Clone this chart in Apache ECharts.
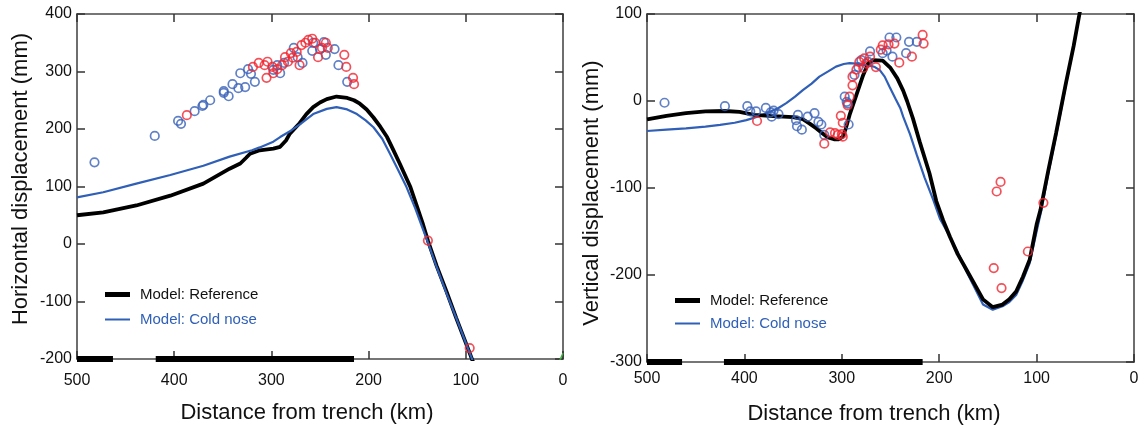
<!DOCTYPE html>
<html><head><meta charset="utf-8">
<script src="https://cdn.jsdelivr.net/npm/echarts@6/dist/echarts.min.js"></script>
<style>html,body{margin:0;padding:0;background:#fff}#c{width:1145px;height:429px}</style>
</head><body><div id="c"></div>
<script>
// ---------- DATA ----------
// Horizontal displacement panel (x: distance from trench km, y: mm)
const horizBlueObs = [[482,142],[420,188],[396,214],[393,209],[379,231],[371,240],[370,242],[363,250],[349,266],[349,263],[344,257],[340,278],[334,271],[332,297],[327,273],[324,304],[321,296],[317,282],[298,303],[294,311],[291,297],[287,315],[277,341],[273,325],[268,315],[258,336],[257,350],[250,339],[246,351],[244,329],[235,339],[231,311],[222,282]];
const horizRedObs = [[387,224],[319,308],[313,315],[307,311],[304,317],[305,289],[299,308],[298,297],[294,304],[289,311],[286,325],[283,317],[280,332],[278,324],[274,334],[271,311],[269,346],[265,350],[262,355],[258,357],[255,350],[252,325],[248,341],[244,350],[242,341],[225,329],[223,308],[216,289],[215,278],[139,6],[96,-181]];
const horizRefModel = [[500,50],[473,55],[439,67],[404,84],[370,105],[343,131],[332,140],[326,150],[322,157],[312,163],[298,166],[291,169],[285,180],[281,192],[271,210],[264,226],[257,238],[250,246],[243,252],[233,256.5],[222,254],[215,250],[209,244],[202,234],[195,220],[188,204],[181,186],[175,165],[168,140],[157,99],[150,64],[144,34],[139,6],[130,-38],[120,-82],[110,-128],[100,-172],[91,-212]];
const horizColdModel = [[500,81],[473,90],[439,105],[404,120],[370,136],[343,152],[320,163],[312,168],[298,178],[291,186],[280,197],[270,209],[257,226],[243,235],[233,238],[222,234],[212,226],[203,215],[195,203],[186,183],[178,157],[170,130],[161,99],[152,62],[145,30],[139,3],[130,-40],[120,-85],[110,-128],[100,-172],[89,-220]];
const horizGreen = [[4,-205],[0,-190]];
const horizBars = [[500,463],[419,215]];

// Vertical displacement panel
const vertBlueObs = [[482,-2],[420,-6],[397,-6],[394,-12],[388,-12],[378,-8],[373,-13],[372,-18],[370,-11],[365,-15],[345,-16],[347,-22],[346,-29],[341,-33],[335,-18],[328,-14],[324,-24],[321,-27],[318,-39],[293,-27],[297,5],[295,-1],[294,-3],[287,30],[283,39],[280,47],[273,45],[271,57],[258,55],[254,58],[251,73],[244,73],[248,51],[234,55],[231,68],[223,68]];
const vertRedObs = [[387,-23],[318,-49],[312,-36],[307,-37],[304,-39],[300,-38],[299,-41],[301,-17],[299,-25],[292,5],[294,-5],[289,18],[289,28],[285,36],[282,45],[278,38],[277,49],[275,43],[271,51],[265,39],[260,59],[258,64],[252,65],[246,66],[241,44],[228,51],[217,76],[216,66],[141,-104],[137,-93],[144,-192],[136,-215],[109,-173],[93,-117]];
const vertRefModel = [[500,-21],[480,-17],[460,-14],[440,-12],[420,-11.5],[405,-12.5],[390,-16],[370,-17.5],[350,-18.5],[340,-21],[333,-26],[326,-31.5],[320,-37],[315,-41.5],[308,-44],[303,-44],[299,-41],[296,-32],[292,-16],[285,7],[278,30],[273,43],[268,47],[258,46.5],[250,38],[243,26],[237,12],[233,0],[227,-20],[220,-47],[210,-83],[203,-115],[196,-137],[189,-156],[181,-176],[172,-194],[163,-212],[155,-228],[145,-237],[135,-234],[128,-228],[121,-219],[114,-202],[107,-182],[100,-142],[96,-125],[88,-80],[80,-37],[70,20],[62,63],[56,100],[50,135]];
const vertColdModel = [[500,-34.5],[480,-33],[460,-31.5],[440,-29.5],[425,-27.5],[410,-25],[398,-22],[385,-17.5],[374,-12.5],[365,-8],[357,-2.5],[348,5],[340,12.5],[331,20],[323,28],[314,34],[306,39.5],[298,42.5],[292,43.5],[285,43],[280,41.5],[272,41],[266,39],[261,35.5],[256,28],[251,16.5],[245,3],[240,-8],[237,-18],[230,-38],[223,-62],[215,-88],[206,-114],[199,-136],[189,-156],[180,-176],[172,-196],[163,-216],[155,-234],[145,-240],[135,-236],[128,-231],[121,-223],[114,-206],[107,-186],[100,-150],[95,-125],[88,-83],[80,-40],[70,18],[62,62],[56,100],[50,135]];
const vertBars = [[500,464],[421,217]];

const xRange = [0, 500, 100];
const horizYRange = [-200, 400, 100];
const vertYRange = [-300, 100, 100];

const legendNames = ['Model: Reference', 'Model: Cold nose'];
const xTitle = 'Distance from trench (km)';
const yTitles = ['Horizontal displacement (mm)', 'Vertical displacement (mm)'];

// ---------- STYLE ----------
const FONT = '"Liberation Sans", Arial, Helvetica, sans-serif';
const AXIS_COLOR = '#4a4a4a';
const BLUE_LINE = '#2f5fb6';
const BLUE_MK = '#3a62b8';
const RED_MK = '#f0262f';
const TEXT = '#111';

function xAxes(gi, labelMargin) {
  const base = {
    gridIndex: gi, type: 'value', min: xRange[0], max: xRange[1], interval: xRange[2], inverse: true,
    axisLine: { show: true, onZero: false, lineStyle: { color: AXIS_COLOR, width: 1.6 } },
    axisTick: { show: true, inside: true, length: 8, lineStyle: { color: '#333', width: 1.5 } },
    splitLine: { show: false }
  };
  return [
    Object.assign({}, base, { position: 'bottom', axisLabel: { color: TEXT, fontSize: 16, fontFamily: FONT, margin: labelMargin } }),
    Object.assign({}, base, { position: 'top', axisLabel: { show: false } })
  ];
}
function yAxes(gi, r) {
  const base = {
    gridIndex: gi, type: 'value', min: r[0], max: r[1], interval: r[2],
    axisLine: { show: true, onZero: false, lineStyle: { color: AXIS_COLOR, width: 1.6 } },
    axisTick: { show: true, inside: true, length: 8, lineStyle: { color: '#333', width: 1.5 } },
    splitLine: { show: false }
  };
  return [
    Object.assign({}, base, { position: 'left', axisLabel: { color: TEXT, fontSize: 16, fontFamily: FONT, margin: 5 } }),
    Object.assign({}, base, { position: 'right', axisLabel: { show: false } })
  ];
}

function lineS(name, data, xi, yi, color, width, z) {
  return { name: name, type: 'line', xAxisIndex: xi, yAxisIndex: yi, data: data, symbol: 'none', smooth: false,
    lineStyle: { color: color, width: width }, itemStyle: { color: color }, z: z, animation: false };
}
function scatS(name, data, xi, yi, color) {
  return { name: name, type: 'scatter', xAxisIndex: xi, yAxisIndex: yi, data: data, symbol: 'circle', symbolSize: 8.5,
    itemStyle: { color: 'rgba(255,255,255,0)', borderColor: color, borderWidth: 1.7 }, z: 5, animation: false };
}
function barS(range, xi, yi, y, width) {
  return { type: 'line', xAxisIndex: xi, yAxisIndex: yi, data: [[range[0], y], [range[1], y]], symbol: 'none', clip: false,
    lineStyle: { color: '#000', width: width, cap: 'butt' }, z: 6, animation: false, silent: true };
}

const series = [
  lineS(legendNames[1], horizColdModel, 0, 0, BLUE_LINE, 2.2, 3),
  lineS(legendNames[0], horizRefModel, 0, 0, '#000', 3.8, 2),
  lineS('green', horizGreen, 0, 0, '#3bb33b', 1.5, 2),
  scatS('blueObsH', horizBlueObs, 0, 0, BLUE_MK),
  scatS('redObsH', horizRedObs, 0, 0, RED_MK),
  lineS(legendNames[1], vertColdModel, 2, 2, BLUE_LINE, 2.2, 2),
  lineS(legendNames[0], vertRefModel, 2, 2, '#000', 3.8, 3),
  scatS('blueObsV', vertBlueObs, 2, 2, BLUE_MK),
  scatS('redObsV', vertRedObs, 2, 2, RED_MK)
];
horizBars.forEach(b => series.push(barS(b, 0, 0, horizYRange[0], 6)));
vertBars.forEach(b => series.push(barS(b, 2, 2, vertYRange[0], 6)));

function legend(left, top, gap) {
  return {
    left: left, top: top, orient: 'vertical', itemWidth: 25, itemHeight: 14, itemGap: gap,
    selectedMode: false,
    data: [
      { name: legendNames[0], icon: 'path://M0,0 L25,0 L25,5 L0,5 Z', itemStyle: { color: '#000' }, textStyle: { color: TEXT } },
      { name: legendNames[1], icon: 'path://M0,0 L25,0 L25,2 L0,2 Z', itemStyle: { color: BLUE_LINE }, textStyle: { color: BLUE_LINE } }
    ],
    textStyle: { fontSize: 15, fontFamily: FONT, padding: [0, 0, 0, 5] }
  };
}

function txt(x, y, s, rot) {
  return { type: 'text', x: x, y: y, rotation: rot || 0, silent: true,
    style: { text: s, font: '22px ' + FONT, fill: TEXT, align: 'center', verticalAlign: 'middle', textAlign: 'center', textVerticalAlign: 'middle' } };
}

const option = {
  backgroundColor: '#fff',
  animation: false,
  grid: [
    { left: 77, top: 14, width: 486, height: 345 },
    { left: 647, top: 14, width: 487, height: 348 }
  ],
  xAxis: xAxes(0, 14).concat(xAxes(1, 9)),
  yAxis: yAxes(0, horizYRange).concat(yAxes(1, vertYRange)),
  legend: [legend(100, 282, 10), legend(670, 288, 8)],
  series: series,
  graphic: [
    txt(21, 179, yTitles[0], Math.PI / 2),
    txt(592, 193, yTitles[1], Math.PI / 2),
    txt(307, 413, xTitle),
    txt(874, 414, xTitle)
  ]
};

const chart = echarts.init(document.getElementById('c'), null, { renderer: 'canvas' });
chart.setOption(option);
</script></body></html>
